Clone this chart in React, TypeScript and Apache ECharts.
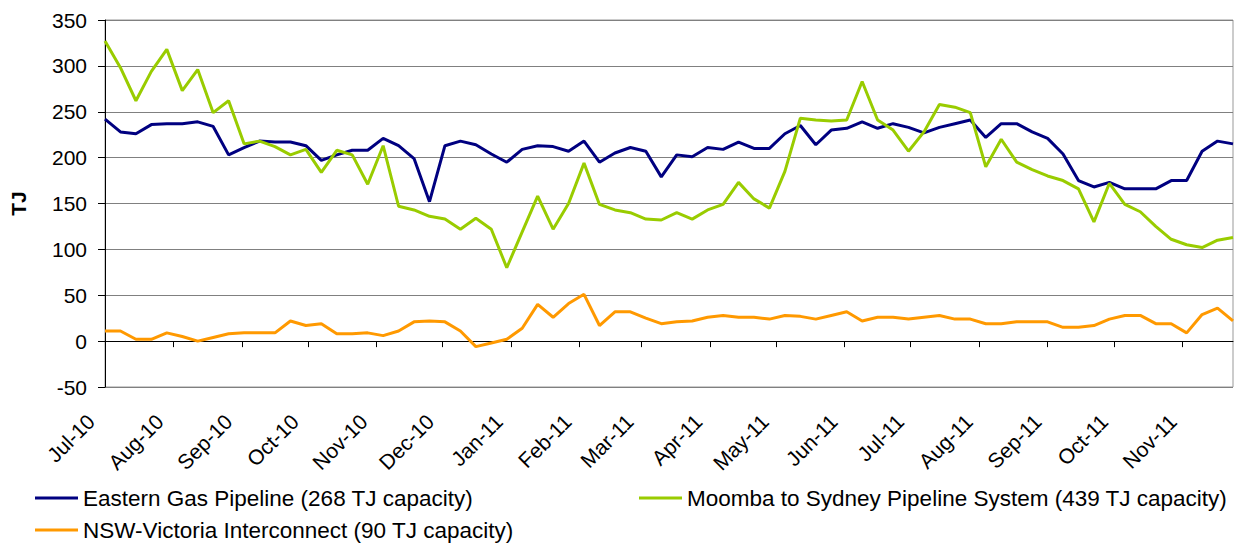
import React, { useEffect, useRef } from "react";
import * as echarts from "echarts";

// Weekly flows (TJ), first week starting 1 Jul 2010
const egp = [242, 228, 226, 236, 237, 237, 239, 234, 203, 211, 218, 217, 217, 213, 197, 203, 208, 208, 221, 213, 199, 152, 213, 218, 214, 204, 195, 209, 213, 212, 207, 218, 195, 205, 211, 207, 179, 203, 201, 211, 209, 217, 210, 210, 226, 235, 214, 230, 232, 239, 232, 237, 233, 227, 233, 237, 241, 222, 237, 237, 228, 221, 204, 175, 168, 173, 166, 166, 166, 175, 175, 207, 218, 215];
const msp = [327, 298, 262, 294, 318, 273, 296, 249, 262, 215, 218, 212, 203, 209, 184, 208, 203, 171, 213, 147, 143, 136, 133, 122, 134, 122, 80, 119, 158, 122, 150, 194, 149, 143, 140, 133, 132, 140, 133, 143, 149, 173, 155, 145, 185, 243, 241, 240, 241, 283, 241, 230, 207, 228, 258, 255, 249, 190, 220, 195, 187, 180, 175, 166, 130, 172, 149, 141, 125, 111, 105, 102, 110, 113];
const nvi = [11, 11, 2, 2, 9, 5, 0, 4, 8, 9, 9, 9, 22, 17, 19, 8, 8, 9, 6, 11, 21, 22, 21, 11, -6, -2, 2, 14, 40, 26, 41, 51, 17, 32, 32, 25, 19, 21, 22, 26, 28, 26, 26, 24, 28, 27, 24, 28, 32, 22, 26, 26, 24, 26, 28, 24, 24, 19, 19, 21, 21, 21, 15, 15, 17, 24, 28, 28, 19, 19, 9, 29, 36, 22];

const seriesNames = [
  "Eastern Gas Pipeline (268 TJ capacity)",
  "Moomba to Sydney Pipeline System (439 TJ capacity)",
  "NSW-Victoria Interconnect (90 TJ capacity)",
];
const seriesColors = ["#000080", "#99CC00", "#FF9900"];
const monthNames = ["Jan", "Feb", "Mar", "Apr", "May", "Jun", "Jul", "Aug", "Sep", "Oct", "Nov", "Dec"];

const START = Date.UTC(2010, 6, 1);
const DAY = 86400000;
const TOTAL_DAYS = 511;

const iso = (t: number) => new Date(t).toISOString().slice(0, 10);
const dayLabels = Array.from({ length: TOTAL_DAYS + 1 }, (_, d) => iso(START + d * DAY));
const weekDates = egp.map((_, i) => iso(START + 7 * i * DAY));
const isMonthStart = (_i: number, v: string) => v.slice(8, 10) === "01";
const fmtMonth = (v: string) => monthNames[parseInt(v.slice(5, 7), 10) - 1] + "-" + v.slice(2, 4);

const FONT = "'Liberation Sans', Arial, sans-serif";

export default function App() {
  const ref = useRef<HTMLDivElement>(null);
  useEffect(() => {
    if (!ref.current) return;
    const chart = echarts.init(ref.current, undefined, { renderer: "svg" });
    const values = [egp, msp, nvi];
    const legendPos = [
      { left: 35, top: 486 },
      { left: 639, top: 486 },
      { left: 35, top: 518 },
    ];
    chart.setOption({
      animation: false,
      textStyle: { fontFamily: FONT, color: "#000" },
      grid: [
        { left: 100, top: 20, right: 9, bottom: 156, show: true, borderColor: "#999", borderWidth: 1 },
        { left: 91, top: 20, right: 18, bottom: 156 },
      ],
      xAxis: [
        {
          type: "category",
          gridIndex: 0,
          data: dayLabels,
          boundaryGap: false,
          axisLine: { onZero: true, lineStyle: { color: "#000", width: 1 } },
          axisTick: { show: true, interval: isMonthStart, length: 6, lineStyle: { color: "#000" } },
          axisLabel: { show: false },
          splitLine: { show: false },
        },
        {
          type: "category",
          gridIndex: 1,
          data: dayLabels,
          boundaryGap: false,
          axisLine: { show: false, onZero: false },
          axisTick: { show: false },
          splitLine: { show: false },
          axisLabel: {
            interval: isMonthStart,
            rotate: 45,
            margin: 31,
            fontSize: 21,
            color: "#000",
            fontFamily: FONT,
            formatter: fmtMonth,
          },
        },
      ],
      yAxis: [
        {
          type: "value",
          gridIndex: 0,
          min: -50,
          max: 350,
          interval: 50,
          name: "TJ",
          nameLocation: "middle",
          nameGap: 76,
          nameRotate: 90,
          nameTextStyle: { fontWeight: "bold", fontSize: 21, color: "#000", fontFamily: FONT },
          axisLine: { show: true, lineStyle: { color: "#000" } },
          axisTick: { show: true, length: 7, lineStyle: { color: "#000" } },
          axisLabel: { margin: 18, fontSize: 21, color: "#000", fontFamily: FONT },
          splitLine: { show: true, lineStyle: { color: "#808080", width: 1 } },
        },
        { type: "value", gridIndex: 1, min: -50, max: 350, show: false },
      ],
      legend: seriesNames.map((n, i) => ({
        data: [n],
        ...legendPos[i],
        padding: 0,
        icon: "rect",
        itemWidth: 43,
        itemHeight: 3,
        selectedMode: false,
        textStyle: { fontSize: 22.5, color: "#000", fontFamily: FONT, lineHeight: 24 },
      })),
      series: seriesNames.map((n, i) => ({
        name: n,
        type: "line",
        xAxisIndex: 0,
        yAxisIndex: 0,
        symbol: "none",
        color: seriesColors[i],
        lineStyle: { width: 3, color: seriesColors[i] },
        data: weekDates.map((d, k) => [d, values[i][k]]),
      })),
    });
    return () => chart.dispose();
  }, []);
  return <div ref={ref} style={{ position: "absolute", left: 0, top: 0, width: 1242, height: 543 }} />;
}
